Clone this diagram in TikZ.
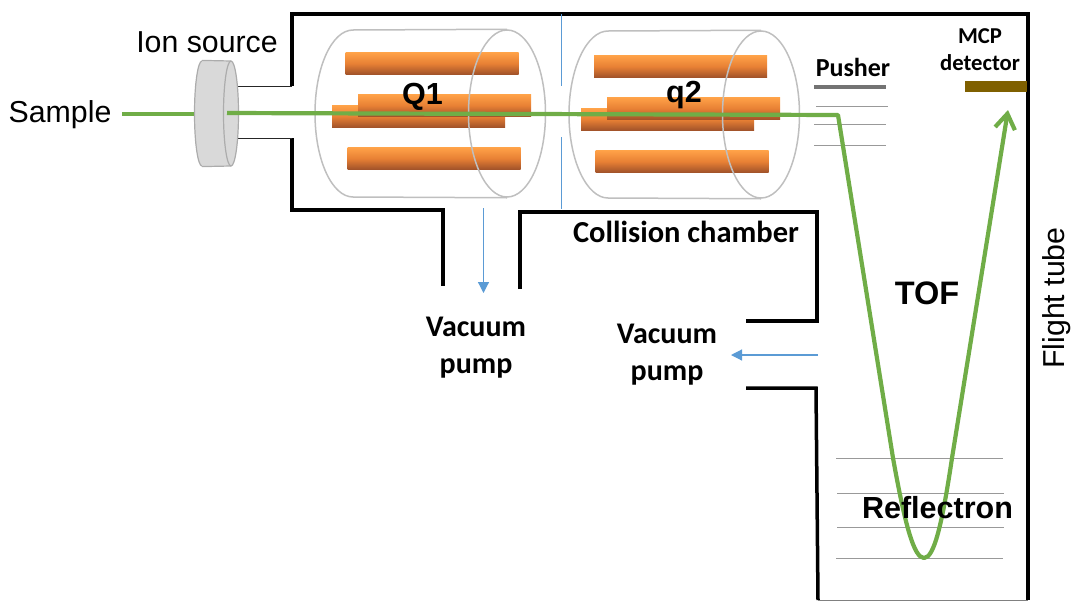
\documentclass[tikz,border=0pt]{standalone}
\usepackage{fontspec}
\setmainfont{Liberation Sans}
\newfontfamily\calfont{Carlito}
\usetikzlibrary{arrows.meta,shapes.geometric}
\definecolor{beamgreen}{RGB}{112,173,71}
\definecolor{pumpblue}{RGB}{91,155,213}
\definecolor{rodtop}{RGB}{255,162,72}
\definecolor{rodmid}{RGB}{232,128,52}
\definecolor{rodbottom}{RGB}{160,82,42}
\definecolor{detbrown}{RGB}{127,96,0}
\tikzset{
	wall/.style={line width=3.5pt, black},
	thinwall/.style={line width=1pt, black!85},
	beam/.style={line width=4.2pt, beamgreen, line join=round},
	pumpflow/.style={line width=1.2pt, pumpblue, -{Triangle[length=11pt,width=11pt]}},
	divider/.style={line width=0.8pt, pumpblue},
	grid/.style={line width=1pt, gray!80},
	rod/.style={rectangle, inner sep=0pt, minimum width=173pt, minimum height=22pt, top color=rodtop, bottom color=rodbottom, middle color=rodmid},
	casing/.style={line width=1.5pt, gray!50},
	casingend/.style={ellipse, draw=gray!50, line width=1.5pt, inner sep=0pt, minimum width=77pt, minimum height=167pt},
	plainlabel/.style={font=\fontsize{30.3}{32}\selectfont, inner sep=0pt},
	boldlabel/.style={font=\fontsize{30.5}{32}\selectfont\bfseries, inner sep=0pt},
	callabel/.style={font=\calfont\fontsize{30}{37}\selectfont\bfseries, inner sep=0pt, align=center},
}
\begin{document}
\begin{tikzpicture}[x=1pt, y=-1pt]
	\useasboundingbox (0,0) rectangle (1073,600);
	\coordinate (Wa)at(292,86);
	\coordinate (Wb)at(292,14);
	\coordinate (Wc)at(1028,14);
	\coordinate (Wd)at(1028,600);
	\coordinate (We)at(292,138);
	\coordinate (Wf)at(292,210);
	\coordinate (Wg)at(443,210);
	\coordinate (Wh)at(443,286);
	\coordinate (Wi)at(520,289);
	\coordinate (Wj)at(520,212);
	\coordinate (Wk)at(817,212);
	\coordinate (Wl)at(817,321);
	\coordinate (Wm)at(746,321);
	\coordinate (Wn)at(746,388);
	\coordinate (Wo)at(816,388);
	\coordinate (Wp)at(818,600);
	\coordinate (Sa)at(238,86);
	\coordinate (Sb)at(238,138);
	\coordinate (Da)at(561,14);
	\coordinate (Db)at(561,86);
	\coordinate (Dc)at(561,137);
	\coordinate (Dd)at(561,209);
	\coordinate (Pa)at(483.5,208);
	\coordinate (Pb)at(483.5,293);
	\coordinate (Pc)at(818,355);
	\coordinate (Pd)at(731,355);
	\coordinate (Ga)at(814,87);
	\coordinate (Gb)at(886,87);
	\coordinate (Gc)at(816,106.5);
	\coordinate (Gd)at(888,106.5);
	\coordinate (Ge)at(814,124.5);
	\coordinate (Gf)at(886,124.5);
	\coordinate (Gg)at(814,145);
	\coordinate (Gh)at(886,145);
	\coordinate (Ra)at(836,458);
	\coordinate (Rb)at(1003,458);
	\coordinate (Rc)at(837,493);
	\coordinate (Rd)at(1004,493);
	\coordinate (Re)at(837,527);
	\coordinate (Rf)at(1004,527);
	\coordinate (Rg)at(836,558.5);
	\coordinate (Rh)at(1003,558.5);
	\coordinate (Ba)at(122,114);
	\coordinate (Bb)at(194,114);
	\coordinate (Bc)at(227,113);
	\coordinate (Bd)at(838,115);
	\coordinate (Be)at(893,458);
	\coordinate (Bf)at(924,558);
	\coordinate (Bg)at(952,458);
	\coordinate (Bh)at(1008,110);
	\draw[wall, line join=miter] (Wa) -- (Wb) -- (Wc) -- (Wd);
	\draw[wall, line join=miter] (We) -- (Wf) -- (Wg) -- (Wh);
	\draw[wall, line join=miter] (Wi) -- (Wj) -- (Wk) -- (Wl) -- (Wm);
	\draw[wall, line join=miter] (Wn) -- (Wo) -- (Wp);
	\draw[line width=1pt, gray] (Wp) -- (Wd);
	\draw[thinwall] (Sa) -- (Wa);
	\draw[thinwall] (Sb) -- (We);
	\draw[divider] (Da) -- (Db);
	\draw[divider] (Dc) -- (Dd);
	\draw[pumpflow] (Pa) -- (Pb);
	\draw[pumpflow] (Pc) -- (Pd);
	\node[rod] (Q1a)at(432,63.5) {};
	\node[rod] (Q1c)at(418.5,116.5) {};
	\node[rod] (Q1b)at(444.5,105.5) {};
	\node[rod] (Q1d)at(434,158.5) {};
	\node[rod] (Q2a)at(680.5,66.5) {};
	\node[rod] (Q2c)at(667.5,119.5) {};
	\node[rod] (Q2b)at(693.5,108.5) {};
	\node[rod] (Q2d)at(682,161.5) {};
	\node[casingend] (Q1end)at(507,113.5) {};
	\node[casingend] (Q2end)at(761,114.5) {};
	\draw[casing] (Q1end.north) -- (353,30) .. controls (332,30) and (315,67) .. (315,113.5) .. controls (315,160) and (332,197) .. (353,197) -- (Q1end.south);
	\draw[casing] (Q2end.north) -- (608,31) .. controls (587,31) and (569,68) .. (569,114.5) .. controls (569,161) and (587,198) .. (608,198) -- (Q2end.south);
	\node[ellipse, draw=gray!65, line width=1.2pt, fill=gray!30, inner sep=0pt, minimum width=15pt, minimum height=105pt] (SB)at(202,113.5) {};
	\fill[gray!30] (202,61) rectangle (231,166);
	\draw[gray!65, line width=1.2pt] (SB.north) -- (231,61);
	\draw[gray!65, line width=1.2pt] (SB.south) -- (231,166);
	\node[ellipse, draw=gray!65, line width=1.2pt, fill=gray!30, inner sep=0pt, minimum width=15pt, minimum height=105pt] (SF)at(231,113.5) {};
	\draw[line width=4pt, gray!90!black] (Ga) -- (Gb);
	\draw[grid] (Gc) -- (Gd);
	\draw[grid] (Ge) -- (Gf);
	\draw[grid] (Gg) -- (Gh);
	\draw[grid] (Ra) -- (Rb);
	\draw[grid] (Rc) -- (Rd);
	\draw[grid] (Re) -- (Rf);
	\draw[grid] (Rg) -- (Rh);
	\node[rectangle, fill=detbrown, inner sep=0pt, minimum width=62pt, minimum height=11pt] (MCP)at(996,86.5) {};
	\draw[beam] (Ba) -- (Bb);
	\draw[beam, -{Straight Barb[length=15pt,width=20pt,line width=4.2pt]}] (Bc) -- (Bd) -- (Be) .. controls (905,525) and (914,558) .. (Bf) .. controls (934,558) and (942,525) .. (Bg) -- (Bh);
	\node[plainlabel] (SL)at(60,115) {Sample};
	\node[plainlabel] (IL)at(207,42) {Ion source};
	\node[boldlabel] (Q1L)at(422.5,97) {Q1};
	\node[boldlabel] (Q2L)at(684,95) {q2};
	\node[callabel, font=\calfont\fontsize{26}{32}\selectfont\bfseries] (PL)at(853,67) {Pusher};
	\node[callabel, font=\calfont\fontsize{22.7}{27}\selectfont\bfseries] (ML)at(980,50) {MCP\\detector};
	\node[callabel, font=\calfont\fontsize{30.5}{37}\selectfont\bfseries] (CL)at(686,232) {Collision chamber};
	\node[callabel] (V1L)at(476,348) {Vacuum\\pump};
	\node[callabel] (V2L)at(667,355) {Vacuum\\pump};
	\node[boldlabel, font=\fontsize{32.5}{34}\selectfont\bfseries] (TL)at(927,293) {TOF};
	\node[boldlabel] (RL)at(937.5,508) {Reflectron};
	\node[plainlabel, rotate=90] (FL)at(1057,298) {Flight tube};
\end{tikzpicture}
\end{document}
